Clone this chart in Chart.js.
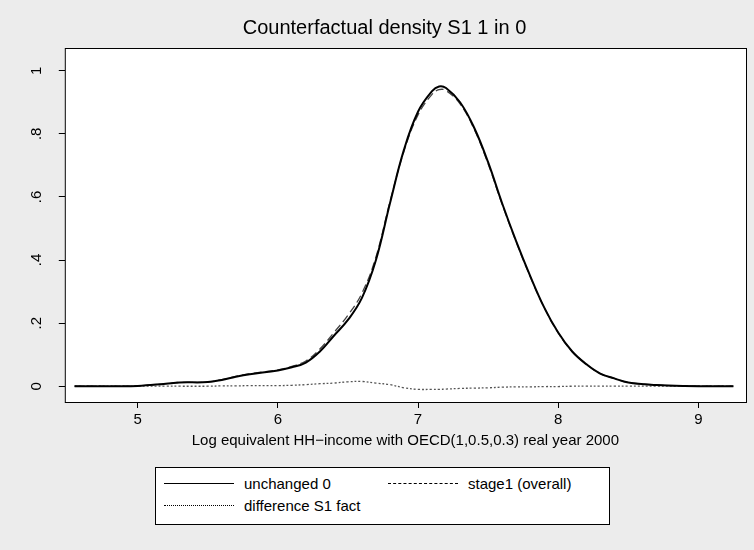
<!DOCTYPE html>
<html><head>
<script src="https://cdn.jsdelivr.net/npm/chart.js@4"></script>
<style>
body{margin:0;background:#ececec;font-family:"Liberation Sans",Arial,sans-serif}
#wrap{position:relative;width:754px;height:550px}
#legend{position:absolute;left:155px;top:467px;width:455px;height:58px;background:#fff;border:1px solid #000;box-sizing:border-box;font-size:15px}
.it{position:absolute;display:flex;align-items:center}
.it span.l{display:inline-block;width:70px;margin-right:10px;border-top:1.6px solid #000}
</style></head><body>
<div id="wrap"><canvas id="c" width="754" height="550"></canvas>
<div id="legend">
<div class="it" style="left:8px;top:7px"><span class="l"></span>unchanged 0</div>
<div class="it" style="left:232px;top:7px"><span class="l" style="border-top:1.4px dashed #000"></span>stage1 (overall)</div>
<div class="it" style="left:8px;top:29px"><span class="l" style="border-top:1.4px dotted #000"></span>difference S1 fact</div>
</div></div>
<script>
const xs =      [4.55, 5.0, 5.2, 5.3, 5.5, 5.6, 5.7, 5.8, 6.0, 6.1, 6.2, 6.3, 6.4, 6.5, 6.6, 6.7, 6.8, 6.9, 7.0, 7.1, 7.15, 7.2, 7.3, 7.4, 7.5, 7.6, 7.7, 7.8, 7.9, 8.0, 8.1, 8.2, 8.3, 8.4, 8.5, 8.7, 8.9, 9.25];
const base =    [0, 0.001, 0.008, 0.012, 0.013, 0.02, 0.03, 0.038, 0.05, 0.06, 0.075, 0.11, 0.16, 0.21, 0.28, 0.40, 0.58, 0.75, 0.87, 0.935, 0.95, 0.945, 0.90, 0.82, 0.71, 0.58, 0.46, 0.35, 0.25, 0.17, 0.11, 0.07, 0.04, 0.025, 0.012, 0.004, 0.001, 0];
const stage1 =  [0, 0.001, 0.008, 0.012, 0.013, 0.021, 0.031, 0.04, 0.052, 0.063, 0.08, 0.118, 0.17, 0.225, 0.295, 0.41, 0.585, 0.745, 0.86, 0.925, 0.94, 0.937, 0.895, 0.815, 0.705, 0.577, 0.458, 0.348, 0.249, 0.169, 0.11, 0.07, 0.04, 0.025, 0.012, 0.004, 0.001, 0];
const diff =    [0, 0, 0, 0, 0, 0.001, 0.001, 0.002, 0.002, 0.003, 0.005, 0.008, 0.01, 0.014, 0.015, 0.01, 0.005, -0.005, -0.01, -0.01, -0.01, -0.009, -0.007, -0.006, -0.005, -0.003, -0.002, -0.002, -0.001, -0.001, 0, 0, 0, 0, 0, 0, 0, 0];
const yTicks = [0, 0.2, 0.4, 0.6, 0.8, 1];
const pts = a => xs.map((x, i) => ({x, y: a[i]}));

const frame = {
  id: 'frame',
  beforeDraw(ch) {
    const a = ch.chartArea, c = ch.ctx;
    c.save(); c.fillStyle = '#fff'; c.fillRect(a.left, a.top, a.right - a.left, a.bottom - a.top); c.restore();
  },
  afterDraw(ch) {
    const a = ch.chartArea, c = ch.ctx, y = ch.scales.y;
    c.save(); c.strokeStyle = '#000'; c.lineWidth = 1;
    c.strokeRect(a.left + 0.5, a.top + 0.5, a.right - a.left, a.bottom - a.top);
    c.fillStyle = '#000'; c.font = '15px "Liberation Sans", Arial'; c.textAlign = 'center'; c.textBaseline = 'bottom';
    yTicks.forEach(v => {
      const py = y.getPixelForValue(v);
      c.save(); c.translate(a.left - 20, py); c.rotate(-Math.PI / 2);
      c.fillText(v === 0 ? '0' : v === 1 ? '1' : String(v).replace('0.', '.'), 0, 0);
      c.restore();
    });
    c.restore();
  }
};

new Chart(document.getElementById('c'), {
  type: 'line',
  data: { datasets: [
    { data: pts(base), borderColor: '#000', borderWidth: 2, pointRadius: 0, tension: 0.4 },
    { data: pts(stage1), borderColor: '#444', borderWidth: 1.3, borderDash: [8, 4], pointRadius: 0, tension: 0.4 },
    { data: pts(diff), borderColor: '#555', borderWidth: 1.3, borderDash: [2, 2], pointRadius: 0, tension: 0.4 }
  ]},
  options: {
    responsive: false, animation: false,
    layout: { padding: { left: 23, right: 8, top: 4, bottom: 100 } },
    plugins: {
      legend: { display: false }, tooltip: { enabled: false },
      title: { display: true, text: 'Counterfactual density S1 1 in 0', color: '#000', font: { size: 20, weight: 'normal', family: '"Liberation Sans", Arial' }, padding: { top: 12, bottom: 8 } }
    },
    scales: {
      x: { type: 'linear', min: 4.48, max: 9.34, afterBuildTicks: s => { s.ticks = [5, 6, 7, 8, 9].map(v => ({value: v})); },
        grid: { drawOnChartArea: false, color: '#000', tickLength: 6 }, border: { display: false },
        ticks: { color: '#000', font: { size: 15, family: '"Liberation Sans", Arial' }, callback: v => v },
        title: { display: true, text: 'Log equivalent HH\u2212income with OECD(1,0.5,0.3) real year 2000', color: '#000', font: { size: 15, family: '"Liberation Sans", Arial' }, padding: 0 } },
      y: { min: -0.05, max: 1.072, afterBuildTicks: s => { s.ticks = yTicks.map(v => ({value: v})); },
        grid: { drawOnChartArea: false, color: '#000', tickLength: 6 }, border: { display: false },
        ticks: { color: 'rgba(0,0,0,0)', font: { size: 14 }, callback: v => '0' , padding: 14} }
    }
  },
  plugins: [frame]
});
</script></body></html>
